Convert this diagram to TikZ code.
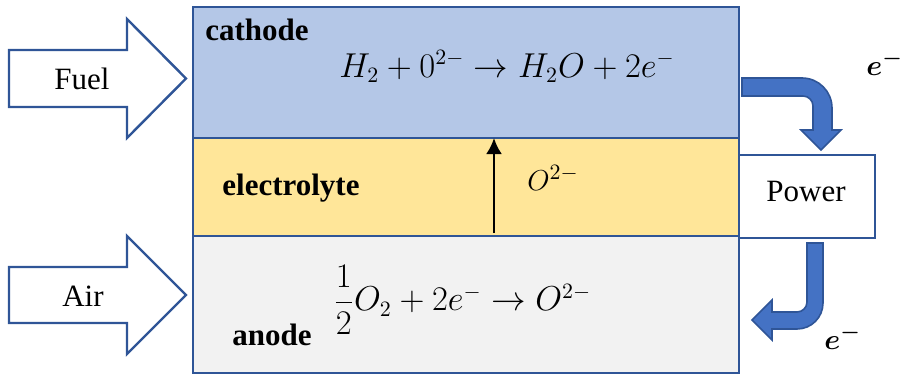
\documentclass[tikz,border=0pt]{standalone}
\usepackage{amsmath}
\usepackage{fontspec}
\setmainfont{LiberationSerif}[Extension=.ttf, UprightFont=*-Regular, BoldFont=*-Bold,
  ItalicFont=*-Italic, BoldItalicFont=*-BoldItalic]
\usetikzlibrary{arrows.meta}

\definecolor{cathodeblue}{HTML}{B4C7E7}
\definecolor{electrolyteyellow}{HTML}{FFE699}
\definecolor{anodegray}{HTML}{F2F2F2}
\definecolor{edgeblue}{HTML}{2F5597}
\definecolor{flowblue}{HTML}{4472C4}

\tikzset{
  layer/.style={draw=edgeblue, line width=1.2pt},
  inlet/.style={draw=edgeblue, fill=white, line width=1.2pt, line join=miter},
  flow/.style={draw=edgeblue, fill=flowblue, line width=0.8pt},
  txt/.style={font=\fontsize{15.5}{18}\selectfont, inner sep=0pt},
  eq/.style={font=\fontsize{16}{19}\selectfont, inner sep=0pt},
  tag/.style={font=\fontsize{15.5}{18}\selectfont\bfseries, inner sep=0pt},
  powerbox/.style={draw=edgeblue, fill=white, line width=1.2pt,
    minimum width=68pt, minimum height=41.5pt},
}

\begin{document}
\begin{tikzpicture}[x=0.5pt, y=-0.5pt, >={Latex[length=8pt, width=8pt]}]
  \useasboundingbox (0,0) rectangle (900,375);

  % Layers of the cell
  \draw[layer, fill=cathodeblue] (193,7) rectangle (739,138);
  \draw[layer, fill=electrolyteyellow] (193,138) rectangle (739,236);
  \draw[layer, fill=anodegray] (193,236) rectangle (739,373);

  % Inlet arrows
  \draw[inlet] (9,50) -- (127,50) -- (127,19) -- (186,78.5) -- (127,138) -- (127,107) -- (9,107) -- cycle;
  \draw[inlet] (9,267) -- (127,267) -- (127,236) -- (186,295) -- (127,354) -- (127,323) -- (9,323) -- cycle;
  \node[txt] (fuel) at (82,79) {Fuel};
  \node[txt] (air) at (83,296) {Air};

  % Labels
  \node[tag, anchor=base west] (cathode) at (205,40) {cathode};
  \node[tag, anchor=base west] (electrolyte) at (222,195) {electrolyte};
  \node[tag, anchor=base west] (anode) at (232,345) {anode};
  \node[eq, anchor=base] (cathodeeq) at (507,77) {$H_2 + 0^{2-} \rightarrow H_2O + 2e^-$};
  \node[eq, anchor=west] (anodeeq) at (333,300) {$\dfrac{1}{2}O_2 + 2e^- \rightarrow O^{2-}$};
  \node[txt, anchor=base west] (ion) at (527,190) {$O^{2-}$};

  % Ion flow
  \coordinate (ionfoot) at (494,233);
  \coordinate (ionhead) at (494,138);
  \draw[->, line width=1.3pt] (ionfoot) -- (ionhead);

  % External circuit
  \node[powerbox] (power) at (807,196.5) {};
  \node[txt] (powertext) at (806,191) {Power};
  \draw[flow] (742,78) -- (802,78) .. controls (818.6,78) and (832,91.4) .. (832,108)
    -- (832,130) -- (841,130) -- (821,150) -- (801,130) -- (813,130) -- (813,106)
    .. controls (813,100.5) and (808.5,96) .. (803,96) -- (742,96) -- cycle;
  \draw[flow] (807,243) -- (823,243) -- (823,303) .. controls (823,317.4) and (811.4,329) .. (797,329)
    -- (772,329) -- (772,340) -- (752,320) -- (772,300) -- (772,312) -- (797,312)
    .. controls (802.5,312) and (807,307.5) .. (807,302) -- cycle;
  \node[txt, anchor=base west] (etop) at (866,75) {$\boldsymbol{e}^{\boldsymbol{-}}$};
  \node[txt, anchor=base west] (ebottom) at (824,349) {$\boldsymbol{e}^{\boldsymbol{-}}$};
\end{tikzpicture}
\end{document}
